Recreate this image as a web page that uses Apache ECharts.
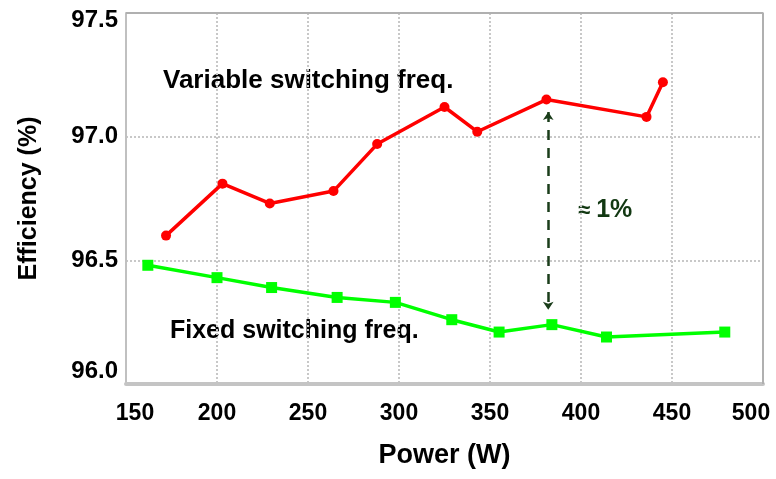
<!DOCTYPE html>
<html>
<head>
<meta charset="utf-8">
<script src="https://cdn.jsdelivr.net/npm/echarts@6/dist/echarts.min.js"></script>
<style>
  html, body { margin: 0; padding: 0; background: #fff; }
  #chart { width: 776px; height: 479px; }
</style>
</head>
<body>
<div id="chart"></div>
<script>
// Variable switching frequency: [power W, efficiency %]
const variablePower = [172, 203, 229, 264, 288, 325, 343, 381, 436, 445]
const variableEff = [96.60, 96.81, 96.73, 96.78, 96.97, 97.12, 97.02, 97.15, 97.08, 97.22]

// Fixed switching frequency
const fixedPower = [162, 200, 230, 266, 298, 329, 355, 384, 414, 479]
const fixedEff = [96.48, 96.43, 96.39, 96.35, 96.33, 96.26, 96.21, 96.24, 96.19, 96.21]

// ~1% gap arrow
const gapPower = 382
const gapTop = 97.10
const gapBottom = 96.30

const xTicks = [150, 200, 250, 300, 350, 400, 450, 500]
const yTicks = [96.0, 96.5, 97.0, 97.5]

const chart = echarts.init(document.getElementById('chart'))

const zip = (xs, ys) => xs.map((x, i) => [x, ys[i]])

const labelFont = { fontFamily: 'Liberation Sans', fontWeight: 'bold', fontSize: 23 }

const option = {
  animation: false,
  grid: { left: 126, right: 13, top: 13, bottom: 95, containLabel: false, outerBoundsMode: 'none' },
  xAxis: {
    type: 'value',
    min: xTicks[0],
    max: xTicks[xTicks.length - 1],
    interval: 50,
    name: 'Power (W)',
    nameLocation: 'middle',
    nameGap: 58,
    nameTextStyle: { fontFamily: 'Liberation Sans', fontWeight: 'bold', fontSize: 27, color: '#000' },
    axisLine: { lineStyle: { color: '#c4c4c4', width: 4 } },
    axisTick: { show: false },
    axisLabel: {
      ...labelFont, color: '#000', margin: 18,
      formatter: v => {
        if (v === xTicks[0]) return '{first|' + v + '}'
        if (v === xTicks[xTicks.length - 1]) return '{last|' + v + '}'
        return String(v)
      },
      rich: {
        first: { ...labelFont, padding: [0, 0, 0, 18] },
        last: { ...labelFont, padding: [0, 24, 0, 0] }
      }
    },
    splitLine: { show: true, lineStyle: { color: '#c8c8c8', type: 'dotted', width: 2 } }
  },
  yAxis: {
    type: 'value',
    min: yTicks[0],
    max: yTicks[yTicks.length - 1],
    interval: 0.5,
    name: 'Efficiency (%)',
    nameLocation: 'middle',
    nameGap: 84,
    nameTextStyle: { fontFamily: 'Liberation Sans', fontWeight: 'bold', fontSize: 25, color: '#000' },
    axisLine: { show: true, lineStyle: { color: '#c0c0c0', width: 2 } },
    axisTick: { show: false },
    axisLabel: {
      fontFamily: 'Liberation Sans', fontWeight: 'bold', fontSize: 24, color: '#000', margin: 8,
      formatter: v => {
        if (v === yTicks[3]) return '{top|' + v.toFixed(1) + '}'
        if (v === yTicks[0]) return '{bot|' + v.toFixed(1) + '}'
        return v.toFixed(1)
      },
      rich: {
        top: { fontFamily: 'Liberation Sans', fontWeight: 'bold', fontSize: 24, padding: [14, 0, 0, 0] },
        bot: { fontFamily: 'Liberation Sans', fontWeight: 'bold', fontSize: 24, padding: [0, 0, 26, 0] }
      }
    },
    splitLine: { show: true, lineStyle: { color: '#c8c8c8', type: 'dotted', width: 2 } }
  },
  series: [
    {
      name: 'Variable switching freq.',
      type: 'line',
      data: zip(variablePower, variableEff),
      symbol: 'circle',
      symbolSize: 10,
      lineStyle: { color: '#ff0000', width: 3.5 },
      itemStyle: { color: '#ff0000' },
      z: 3
    },
    {
      name: 'Fixed switching freq.',
      type: 'line',
      data: zip(fixedPower, fixedEff),
      symbol: 'rect',
      symbolSize: 11,
      lineStyle: { color: '#00ff00', width: 3.5 },
      itemStyle: { color: '#00ff00' },
      z: 3,
      markLine: {
        silent: true,
        symbol: ['arrow', 'arrow'],
        symbolSize: 8,
        label: { show: false },
        lineStyle: { color: '#1a3d1a', type: [10, 8], width: 2.5 },
        data: [[{ coord: [gapPower, gapTop] }, { coord: [gapPower, gapBottom] }]]
      }
    },
    {
      // top/right frame of the plot area
      type: 'line',
      data: [[xTicks[0], yTicks[3]], [xTicks[7], yTicks[3]], [xTicks[7], yTicks[0]]],
      symbol: 'none',
      lineStyle: { color: '#b0b0b0', width: 2 },
      silent: true,
      z: 1
    }
  ],
  graphic: [
    {
      type: 'text', left: 163, top: 68,
      style: { text: 'Variable switching freq.', font: 'bold 26px "Liberation Sans"', fill: '#000' }
    },
    {
      type: 'text', left: 170, top: 319,
      style: { text: 'Fixed switching freq.', font: 'bold 25px "Liberation Sans"', fill: '#000' }
    },
    {
      type: 'text', left: 578, top: 198,
      style: {
        text: '{s|≈ }{b|1%}',
        rich: {
          s: { font: 'bold 22px "Liberation Sans"', fill: '#123812' },
          b: { font: 'bold 25px "Liberation Sans"', fill: '#123812' }
        }
      }
    }
  ]
}

chart.setOption(option)
</script>
</body>
</html>
